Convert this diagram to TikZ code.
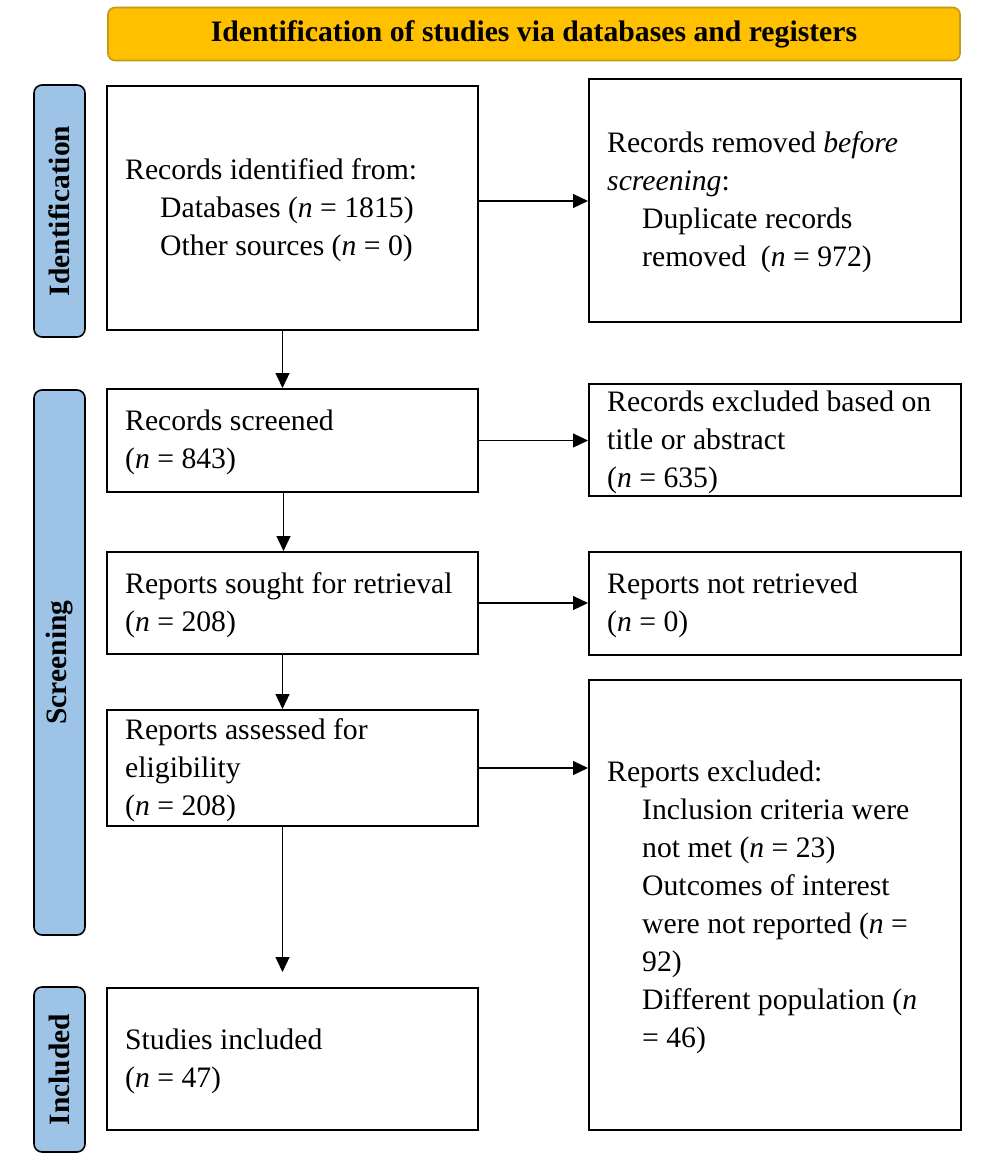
\documentclass[tikz,border=0pt]{standalone}
\usepackage{fontspec}
\setmainfont{Liberation Serif}
\usetikzlibrary{arrows.meta}
\definecolor{gold}{HTML}{FFC000}
\definecolor{goldedge}{HTML}{C49A1C}
\definecolor{sideblue}{HTML}{9DC3E6}
\newcommand{\ind}{\hspace*{35pt}}
\begin{document}
\begin{tikzpicture}[x=1pt,y=-1pt,
  box/.style={draw=black, line width=2pt, inner sep=0pt},
  lbox/.style={box, minimum width=371pt},
  rbox/.style={box, minimum width=372pt},
  txt/.style={anchor=west, inner sep=0pt, align=left, font=\fontsize{29.7}{38}\selectfont},
  side/.style={draw=black, line width=1.6pt, fill=sideblue, rounded corners=8pt,
    rotate=90, minimum height=51pt, inner sep=0pt, font=\fontsize{29.5}{34}\selectfont\bfseries},
  arr/.style={-{Triangle[length=15pt,width=14pt]}, line width=1.2pt}
]
\useasboundingbox (0,0) rectangle (986,1163);

% banner
\node[draw=goldedge, line width=1.6pt, fill=gold, rounded corners=7pt,
  minimum width=852pt, minimum height=53pt, inner sep=0pt,
  font=\fontsize{29.7}{34}\selectfont\bfseries] (banner) at (534,34)
  {Identification of studies via databases and registers};

% side labels
\node[side, minimum width=252pt] (sident) at (59.5,211) {Identification};
\node[side, minimum width=545pt] (sscreen) at (59.5,662.5) {Screening};
\node[side, minimum width=165pt] (sincl) at (59.5,1069.5) {Included};

% left column
\node[lbox, minimum height=244pt] (b1) at (292.5,208) {};
\node[txt] (t1) at ([xshift=19pt,yshift=-2pt]b1.west)
  {Records identified from:\\ \ind Databases (\textit{n} = 1815)\\ \ind Other sources (\textit{n} = 0)};
\node[lbox, minimum height=103pt] (b2) at (292.5,440.5) {};
\node[txt] (t2) at ([xshift=19pt,yshift=-2pt]b2.west)
  {Records screened\\ (\textit{n} = 843)};
\node[lbox, minimum height=102pt] (b3) at (292.5,603) {};
\node[txt] (t3) at ([xshift=19pt,yshift=-2pt]b3.west)
  {Reports sought for retrieval\\ (\textit{n} = 208)};
\node[lbox, minimum height=116pt] (b4) at (292.5,768) {};
\node[txt] (t4) at ([xshift=19pt,yshift=-2pt]b4.west)
  {Reports assessed for\\ eligibility\\ (\textit{n} = 208)};
\node[lbox, minimum height=142pt] (b5) at (292.5,1059) {};
\node[txt] (t5) at ([xshift=19pt,yshift=-2pt]b5.west)
  {Studies included\\ (\textit{n} = 47)};

% right column
\node[rbox, minimum height=243pt] (r1) at (775,200.5) {};
\node[txt] (u1) at ([xshift=19pt,yshift=-2pt]r1.west)
  {Records removed \textit{before}\\ \textit{screening}:\\ \ind Duplicate records\\ \ind removed\ \ (\textit{n} = 972)};
\node[rbox, minimum height=112pt] (r2) at (775,440) {};
\node[txt] (u2) at ([xshift=19pt,yshift=-2pt]r2.west)
  {Records excluded based on\\ title or abstract\\ (\textit{n} = 635)};
\node[rbox, minimum height=103pt] (r3) at (775,603.5) {};
\node[txt] (u3) at ([xshift=19pt,yshift=-2pt]r3.west)
  {Reports not retrieved\\ (\textit{n} = 0)};
\node[rbox, minimum height=450pt] (r4) at (775,905) {};
\node[txt] (u4) at ([xshift=19pt,yshift=-2pt]r4.west)
  {Reports excluded:\\ \ind Inclusion criteria were\\ \ind not met (\textit{n} = 23)\\
   \ind Outcomes of interest\\ \ind were not reported (\textit{n} =\\ \ind 92)\\
   \ind Different population (\textit{n}\\ \ind = 46)};

% horizontal arrows
\draw[arr] ([yshift=7pt]b1.east) -- ([yshift=7pt]b1.east -| r1.west);
\draw[arr] (b2.east) -- (b2.east -| r2.west);
\draw[arr] (b3.east) -- (b3.east -| r3.west);
\draw[arr] (b4.east) -- (b4.east -| r4.west);

% vertical arrows
\draw[arr] ([xshift=-10pt]b1.south) -- ([xshift=-10pt]b2.north);
\draw[arr] ([xshift=-9pt]b2.south) -- ([xshift=-9pt]b3.north);
\draw[arr] ([xshift=-10pt]b3.south) -- ([xshift=-10pt]b4.north);
\draw[arr, shorten >=15pt] ([xshift=-10pt]b4.south) -- ([xshift=-10pt]b5.north);
\end{tikzpicture}
\end{document}
